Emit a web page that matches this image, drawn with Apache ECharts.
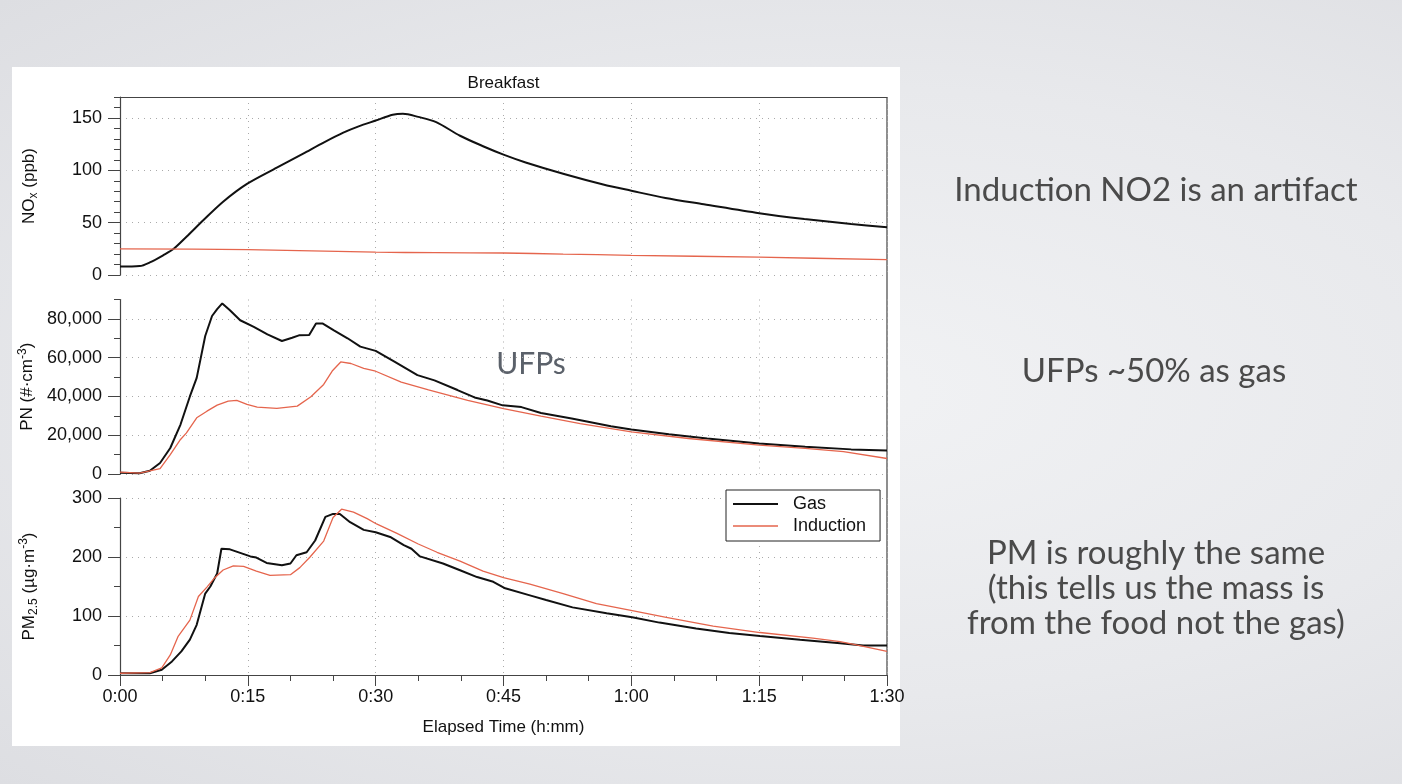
<!DOCTYPE html>
<html><head><meta charset="utf-8">
<script src="https://cdn.jsdelivr.net/npm/echarts@6/dist/echarts.min.js"></script>
<style>
html,body{margin:0;padding:0;width:1402px;height:784px;overflow:hidden;}
body{background: radial-gradient(ellipse at 60% 50%, #f1f2f4 0%, #e8e9ec 55%, #dddee2 100%);}
#panel{position:absolute;left:12px;top:67px;width:888px;height:679px;background:#fff;}
#chart{position:absolute;left:0;top:0;width:1402px;height:784px;}
</style></head><body>
<div id="panel"></div><div id="chart"></div>
<script>
// ---- data (time in minutes, value) ----
const xTicks = [0, 15, 30, 45, 60, 75, 90];
const noxTicks = [0, 50, 100, 150];
const pnTicks = [0, 20000, 40000, 60000, 80000];
const pmTicks = [0, 100, 200, 300];

const noxGas = [[0,8],[2.3,8.5],[3.5,12],[5.1,19],[6.3,25],[7.8,36.5],[9.8,52.5],[12.1,70],[14.9,87],[18.4,102.5],[21.5,116],[24,127],[26.2,136],[28,142],[30,147.5],[32,153],[33.2,154],[35,151],[37.1,146],[39.9,133],[42.6,123],[45,115],[47.6,107.5],[52.1,96.5],[56.7,86.5],[60,80.5],[64,73.5],[68.5,67.5],[75,59],[80.3,53.5],[85.8,48.7],[90,45.5]];
const noxInd = [[0,25],[15,24.2],[30,21.8],[37,21.3],[45,21],[52,20],[60,18.8],[75,17],[90,14.6]];

const pnGas = [[0,700],[2.3,400],[3.5,1700],[4.7,5700],[5.9,13400],[7.1,25500],[8.2,40000],[9.0,49600],[10.0,71200],[10.8,81500],[11.4,85000],[12.0,88000],[12.9,84500],[14.1,79300],[15.7,75900],[17.3,72000],[19.0,68600],[20.2,70300],[21.0,71500],[22.2,71700],[23.0,77600],[23.8,77600],[25.1,74100],[26.7,70000],[28.2,65700],[30,63500],[32.2,58000],[34.9,51000],[36.9,48300],[39.6,43300],[41.6,39500],[43.1,37900],[44.9,35400],[47.1,34500],[49.4,31500],[53,28600],[57.6,24600],[60,22900],[64.4,20500],[68.9,18300],[75,15700],[80.4,14000],[85.8,12700],[90,12100]];
const pnInd = [[0,1000],[2.3,500],[4.7,2800],[5.9,10000],[7.1,17800],[7.8,21200],[9.0,29000],[10.2,32400],[11.4,35500],[12.7,37600],[13.7,38000],[14.9,35900],[16.1,34500],[18.4,33800],[20.8,35000],[22.4,39800],[23.9,46200],[24.9,53100],[25.9,57800],[27.1,57000],[28.6,54500],[30,53000],[33,47400],[36.2,43400],[40.8,38000],[45,33700],[49.4,29800],[54,26000],[60,21700],[66.7,18300],[75,14900],[80.4,13200],[84.9,11500],[90,8000]];

const pmGas = [[0,3],[3.5,3],[4.9,9],[6.1,23],[7.2,40],[8.2,60],[9.0,85],[10,138],[10.6,150],[11.4,172],[11.9,214],[12.9,213],[14.1,207],[15.3,201],[16,199],[17.2,190],[19,186],[20,189],[20.7,203],[21.9,208],[22.9,228],[24.1,268],[25,273],[25.8,273],[27,259],[28.6,246],[30,242],[31.7,234],[33.3,220],[34.2,214],[35.2,201],[37.9,189],[39.9,177.5],[41.9,166],[43.8,158],[45.2,147],[48.1,135],[50,127],[53.1,114.6],[57.1,104.5],[60.1,97.8],[63.3,88.8],[67.6,79],[71.5,71],[75.1,66],[79.8,59.6],[84.5,54],[87.2,50],[90,50]];
const pmInd = [[0,3],[3.5,4],[4.9,12],[5.9,34],[6.8,65],[8.2,93],[9.2,133],[10.2,149],[11,163],[12.1,178],[13.3,185],[14.5,184],[16,176],[17.6,169],[20,170],[21.1,182],[22.3,200],[23.9,227],[25,267],[26,281],[27.4,276],[29,265],[30.1,256],[32.5,240],[35,222],[37.2,208],[39.9,193],[42.6,176],[45,165],[48.1,154],[52,138],[55.9,121],[60.1,109],[64.1,97.8],[69.6,83],[75.1,72],[81.3,62.4],[84.5,56.7],[86.4,51],[90,40]];

// ---- layout ----
const GL = 120, GW = 767;
const grids = [
  {left: GL, top: 97, width: GW, height: 178},
  {left: GL, top: 299.5, width: GW, height: 174.5},
  {left: GL, top: 498, width: GW, height: 177}
];
const FONT = '"Liberation Sans", Arial, sans-serif';
const AX = '#444';
const GAS = '#111';
const IND = '#e5654d';
const fmtTime = v => Math.floor(v / 60) + ':' + String(v % 60).padStart(2, '0');
const split = {show: true, lineStyle: {color: '#aaa', type: [1, 5], width: 1}};

function xAxis(i, full) {
  return {
    type: 'value', gridIndex: i, min: 0, max: 90, interval: 15, position: 'bottom',
    axisLine: {show: full, onZero: false, lineStyle: {color: AX, width: 1.2}},
    axisTick: {show: full, length: 11, lineStyle: {color: AX}},
    minorTick: {show: full, splitNumber: 3, length: 6, lineStyle: {color: AX}},
    axisLabel: {show: full, margin: 13, fontSize: 18, color: '#111', fontFamily: FONT,
      customValues: xTicks, formatter: fmtTime},
    splitLine: split,
    name: full ? 'Elapsed Time (h:mm)' : '', nameLocation: 'middle', nameGap: 44,
    nameTextStyle: {fontSize: 17, color: '#111', fontFamily: FONT}
  };
}
const rich = {
  n: {fontSize: 17, lineHeight: 22, color: '#111', fontFamily: FONT},
  s: {fontSize: 12, lineHeight: 11, verticalAlign: 'bottom', color: '#111', fontFamily: FONT},
  u: {fontSize: 12, lineHeight: 11, verticalAlign: 'top', color: '#111', fontFamily: FONT}
};
function yAxis(i, max, interval, ticks, name, fmt) {
  return {
    type: 'value', gridIndex: i, min: 0, max: max, interval: interval, position: 'left',
    axisLine: {show: true, onZero: false, lineStyle: {color: AX, width: 1.2}},
    axisTick: {show: true, length: 12, customValues: ticks, lineStyle: {color: AX}},
    axisLabel: {margin: 18, fontSize: 18, color: '#111', fontFamily: FONT, customValues: ticks, formatter: fmt},
    splitLine: split,
    name: name, nameLocation: 'middle', nameGap: 80, nameTextStyle: {rich: rich}
  };
}
function yMinor(i, max, interval) {
  return {
    type: 'value', gridIndex: i, min: 0, max: max, interval: interval, position: 'left',
    axisLine: {show: false, onZero: false}, axisLabel: {show: false}, splitLine: {show: false},
    axisTick: {show: true, length: 6, lineStyle: {color: AX}}
  };
}
function line(name, xi, data, color, width, smooth) {
  return {name: name, type: 'line', xAxisIndex: xi, yAxisIndex: xi, data: data, symbol: 'none',
    smooth: smooth || false,
    lineStyle: {color: color, width: width}, itemStyle: {color: color}, silent: true};
}

const chart = echarts.init(document.getElementById('chart'), null, {renderer: 'canvas'});
const sideText = '"Lato", "Open Sans", sans-serif';
const txt = (x, y, t, size, color) => ({type: 'text', x: x, y: y, silent: true,
  style: {text: t, fill: color, font: size + 'px ' + sideText, textAlign: 'center', textVerticalAlign: 'middle'}});
const right = GL + GW;
chart.setOption({
  animation: false,
  backgroundColor: 'transparent',
  grid: grids,
  xAxis: [xAxis(0, false), xAxis(1, false), xAxis(2, true),
    {type: 'value', gridIndex: 0, min: 0, max: 90, position: 'top',
     axisLine: {show: true, onZero: false, lineStyle: {color: AX, width: 1.2}},
     axisTick: {show: false}, axisLabel: {show: false}, splitLine: {show: false}}],
  yAxis: [
    yAxis(0, 170, 50, noxTicks, '{n|NO}{s|x}{n| (ppb)}', v => String(v)),
    yAxis(1, 90000, 20000, pnTicks, '{n|PN (#·cm}{u|-3}{n|)}', v => v.toLocaleString('en-US')),
    yAxis(2, 300, 100, pmTicks, '{n|PM}{s|2.5}{n| (µg·m}{u|-3}{n|)}', v => String(v)),
    yMinor(0, 170, 10), yMinor(1, 90000, 10000), yMinor(2, 300, 50)
  ],
  legend: {
    data: [{name: 'Gas', icon: 'path://M0,0H45V2H0Z'}, {name: 'Induction', icon: 'path://M0,0H45V1.4H0Z'}],
    symbolKeepAspect: true,
    orient: 'vertical', left: 726, top: 490,
    backgroundColor: '#fff', borderColor: '#222', borderWidth: 1, borderRadius: 0,
    padding: [5, 14, 6, 7], itemGap: 4, itemWidth: 45, itemHeight: 18,
    textStyle: {fontSize: 18, color: '#111', fontFamily: FONT, padding: [0, 0, 0, 10]},
    selectedMode: false
  },
  series: [
    line('Gas', 0, noxGas, GAS, 2, 0.3), line('Induction', 0, noxInd, IND, 1.3, 0.3),
    line('Gas', 1, pnGas, GAS, 2), line('Induction', 1, pnInd, IND, 1.3),
    line('Gas', 2, pmGas, GAS, 2), line('Induction', 2, pmInd, IND, 1.3)
  ],
  graphic: [
    {type: 'line', silent: true, shape: {x1: right, y1: grids[0].top, x2: right, y2: grids[2].top + grids[2].height},
     style: {stroke: AX, lineWidth: 1.2}},
    {type: 'text', x: GL + GW / 2, y: 83, silent: true,
     style: {text: 'Breakfast', fill: '#111', font: '17px ' + FONT, textAlign: 'center', textVerticalAlign: 'middle'}},
    txt(531, 364, 'UFPs', 30, '#5b616a'),
    txt(1156, 190, 'Induction NO2 is an artifact', 33, '#4a4a4a'),
    txt(1154, 371, 'UFPs ~50% as gas', 33, '#4a4a4a'),
    txt(1156, 553, 'PM is roughly the same', 33, '#4a4a4a'),
    txt(1156, 588, '(this tells us the mass is', 33, '#4a4a4a'),
    txt(1156, 623, 'from the food not the gas)', 33, '#4a4a4a')
  ]
});
</script></body></html>
